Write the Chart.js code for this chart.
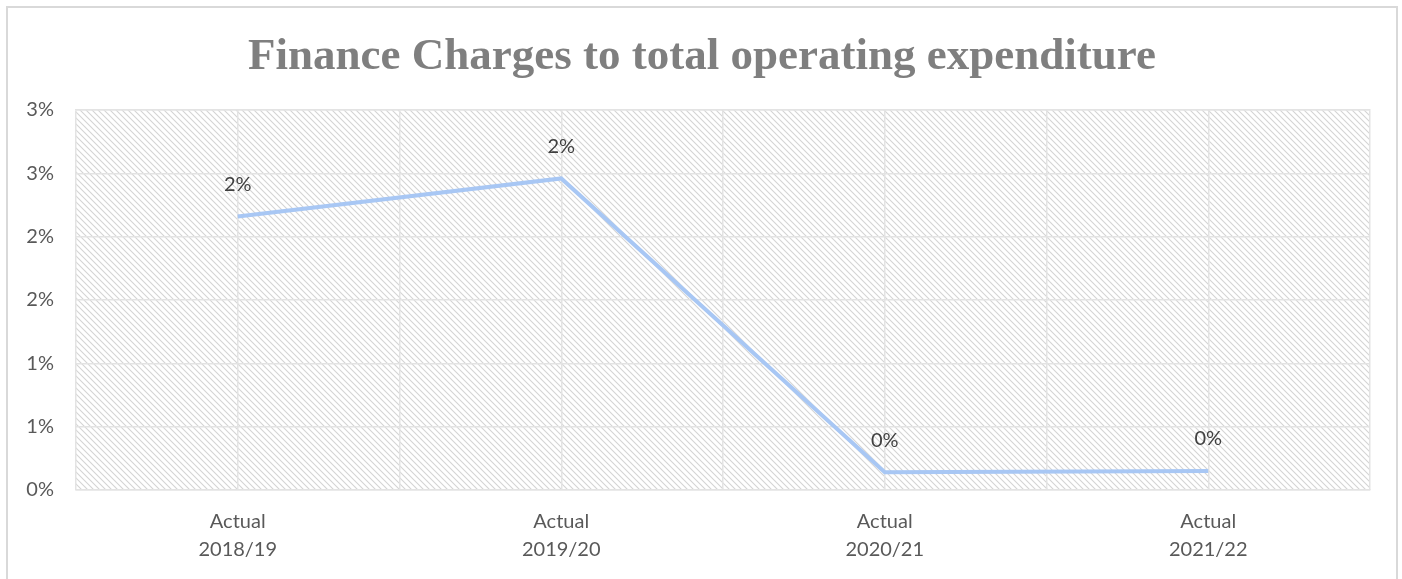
<!DOCTYPE html>
<html>
<head>
<meta charset="utf-8">
<script src="https://cdn.jsdelivr.net/npm/chart.js@4/dist/chart.umd.min.js"></script>
<style>
    html, body { margin: 0; padding: 0; background: #fff; }
    #wrap { width: 1402px; height: 579px; }
</style>
</head>
<body>
<div id="wrap"><canvas id="mine" width="1402" height="579"></canvas></div>
<script>
    // values, in percent
    const categories = [["Actual", "2018/19"], ["Actual", "2019/20"], ["Actual", "2020/21"], ["Actual", "2021/22"]];
    const ratio = [2.16, 2.46, 0.14, 0.15];
    const yMin = 0;
    const yMax = 3;
    const yStep = 0.5;
    const titleText = "Finance Charges to total operating expenditure";

    const pct = v => Math.round(v) + "%";

    // diagonal hatch for the plot area
    function hatch() {
        let c = document.createElement("canvas");
        c.width = 6; c.height = 6;
        let g = c.getContext("2d");
        g.strokeStyle = "#d4d4d4";
        g.lineWidth = 1.1;
        g.beginPath();
        g.moveTo(-1, -1); g.lineTo(7, 7);
        g.moveTo(-1, 5); g.lineTo(1, 7);
        g.moveTo(5, -1); g.lineTo(7, 1);
        g.stroke();
        return g.createPattern(c, "repeat");
    }

    const decor = {
        id: "decor",
        beforeDraw(chart) {
            let ctx = chart.ctx, a = chart.chartArea;
            ctx.save();
            ctx.fillStyle = hatch();
            ctx.fillRect(a.left, a.top, a.right - a.left, a.bottom - a.top);
            ctx.restore();
        },
        afterDraw(chart) {
            let ctx = chart.ctx;
            ctx.save();
            // outer frame
            ctx.strokeStyle = "#d9d9d9";
            ctx.lineWidth = 2;
            ctx.strokeRect(7, 7, 1390, 620);
            // title, centred on the whole frame
            ctx.fillStyle = "#7f7f7f";
            ctx.font = "bold 45px 'Liberation Serif'";
            ctx.textAlign = "center";
            ctx.textBaseline = "middle";
            ctx.fillText(titleText, chart.width / 2 + 1, 57);
            // value labels above points
            ctx.fillStyle = "#404040";
            ctx.font = "20px Lato";
            chart.getDatasetMeta(0).data.forEach((p, i) => {
                ctx.fillText(pct(ratio[i]), p.x, p.y - 32);
            });
            ctx.restore();
        }
    };

    const ctx = document.getElementById("mine").getContext("2d");
    const myChart = new Chart(ctx, {
        type: "line",
        data: {
            labels: categories,
            datasets: [{
                data: ratio,
                borderColor: "#a8c7f4",
                borderWidth: 4,
                pointRadius: 0,
                tension: 0,
                fill: false
            }]
        },
        options: {
            responsive: false,
            animation: false,
            layout: { padding: { left: 8, right: 32, top: 110, bottom: 0 } },
            plugins: {
                legend: { display: false },
                tooltip: { enabled: false },
                title: { display: false }
            },
            scales: {
                x: {
                    offset: true,
                    grid: { color: "#e3e3e3", lineWidth: 1.5, offset: false, drawTicks: false },
                    border: { color: "#e3e3e3", width: 1.5 },
                    ticks: {
                        color: "#595959",
                        font: { family: "Lato", size: 20, lineHeight: 1.4 },
                        padding: 18,
                        maxRotation: 0
                    },
                    afterFit: s => { s.height = 89; }
                },
                x2: {
                    type: "category",
                    labels: categories,
                    position: "top",
                    offset: true,
                    grid: { color: "#e3e3e3", lineWidth: 1.5, offset: true, drawTicks: false },
                    border: { color: "#e3e3e3", width: 1.5 },
                    ticks: { display: false },
                    afterFit: s => { s.height = 0; }
                },
                y: {
                    min: yMin,
                    max: yMax,
                    grid: { color: "#e3e3e3", lineWidth: 1.5, drawTicks: false },
                    border: { display: false },
                    ticks: {
                        stepSize: yStep,
                        color: "#595959",
                        font: { family: "Lato", size: 20 },
                        padding: 22,
                        callback: v => pct(v)
                    },
                    afterFit: s => { s.width = 68; }
                }
            }
        },
        plugins: [decor]
    });
</script>
</body>
</html>
